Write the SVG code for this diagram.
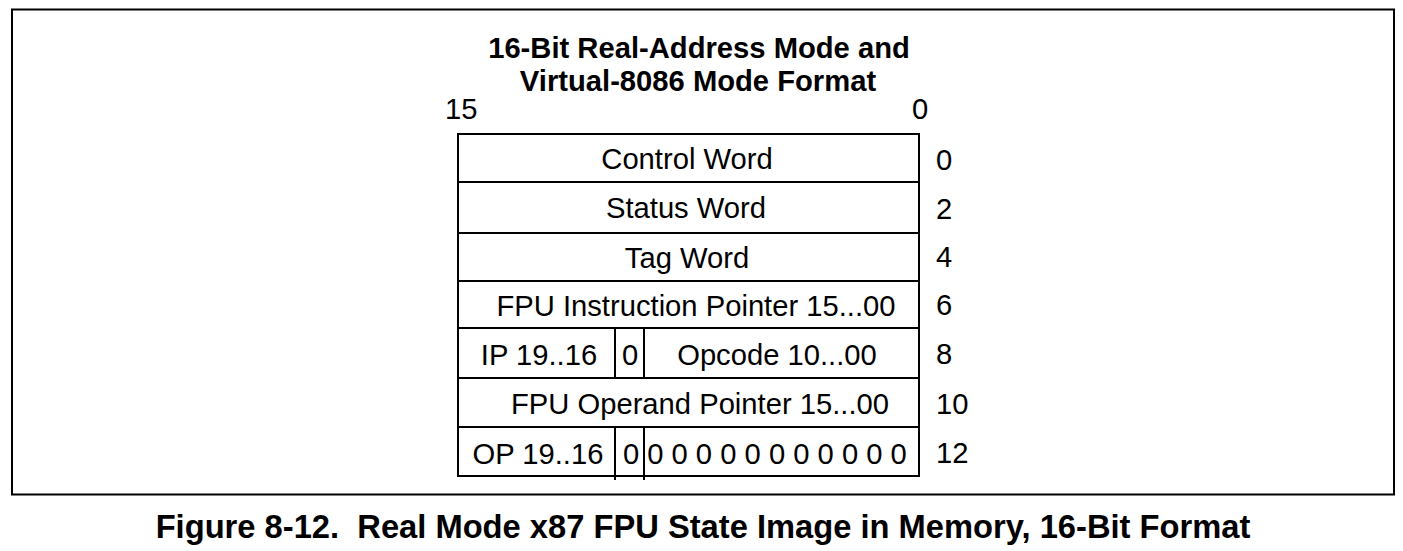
<svg xmlns="http://www.w3.org/2000/svg" width="1403" height="551" viewBox="0 0 1403 551">
<style>
.t{font-family:"Liberation Sans",Arial,sans-serif;font-size:29.2px;fill:#000}
.b{font-family:"Liberation Sans",Arial,sans-serif;font-weight:bold;fill:#000}
.m{text-anchor:middle}
.ln{stroke:#000;stroke-width:2;fill:none}
</style>
<rect width="1403" height="551" fill="#fff"/>
<rect x="12" y="9.5" width="1382" height="485" class="ln" stroke-width="2.5"/>
<g id="title">
<text class="b m" x="699" y="58" font-size="29.2">16-Bit Real-Address Mode and</text>
<text class="b m" x="698" y="91" font-size="29.2">Virtual-8086 Mode Format</text>
</g>
<g id="bits">
<text class="t" x="445" y="119">15</text>
<text class="t" x="912" y="119">0</text>
</g>
<g id="table">
<rect x="458" y="134" width="461" height="342" class="ln"/>
<path class="ln" d="M458 182H919M458 233H919M458 281H919M458 328H919M458 378H919M458 427H919M615 328V378M644 328V378M615 427V480M644 427V480"/>
</g>
<g id="row0"><text class="t m" x="687" y="169">Control Word</text><text class="t" x="936" y="170">0</text></g>
<g id="row2"><text class="t m" x="686" y="218">Status Word</text><text class="t" x="936" y="219">2</text></g>
<g id="row4"><text class="t m" x="687" y="268">Tag Word</text><text class="t" x="936" y="267">4</text></g>
<g id="row6"><text class="t m" x="696" y="316">FPU Instruction Pointer 15...00</text><text class="t" x="936" y="315">6</text></g>
<g id="row8"><text class="t m" x="539" y="365">IP 19..16</text><text class="t m" x="630" y="365">0</text><text class="t m" x="777" y="365">Opcode 10...00</text><text class="t" x="936" y="364">8</text></g>
<g id="row10"><text class="t m" x="700" y="414">FPU Operand Pointer 15...00</text><text class="t" x="936" y="414">10</text></g>
<g id="row12"><text class="t m" x="538" y="464">OP 19..16</text><text class="t m" x="631" y="464">0</text><text class="t m" x="777" y="464">0 0 0 0 0 0 0 0 0 0 0</text><text class="t" x="936" y="463">12</text></g>
<g id="caption">
<text class="b m" x="703" y="538" font-size="32.7" xml:space="preserve">Figure 8-12.  Real Mode x87 FPU State Image in Memory, 16-Bit Format</text>
</g>
</svg>
